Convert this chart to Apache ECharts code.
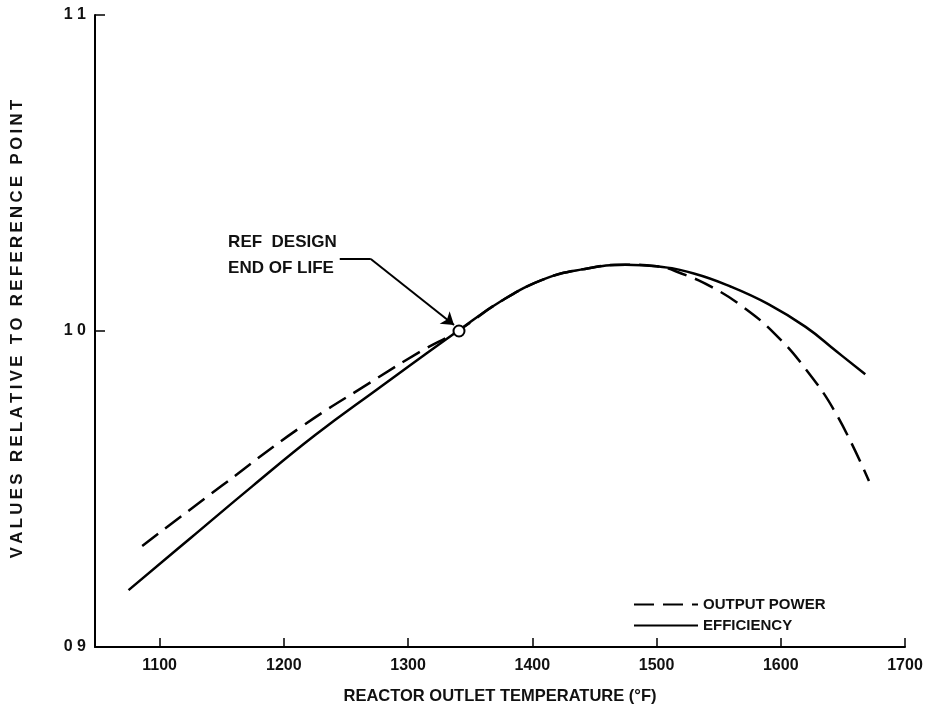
<!DOCTYPE html>
<html>
<head>
<meta charset="utf-8">
<script src="https://cdn.jsdelivr.net/npm/echarts@6/dist/echarts.min.js"></script>
<style>
html,body{margin:0;padding:0;background:#fff;}
#c{width:930px;height:710px;}
</style>
</head>
<body>
<div id="c"></div>
<script>
// ---- data ----
const effTemp   = [1075, 1125, 1175, 1225, 1275, 1340, 1375, 1410, 1440, 1475, 1500, 1530, 1560, 1590, 1620, 1645, 1668];
const effValue  = [0.918, 0.9345, 0.951, 0.967, 0.9815, 1.000, 1.0095, 1.0165, 1.0195, 1.021, 1.0205, 1.0182, 1.0140, 1.0085, 1.0013, 0.9935, 0.9863];
const powTemp   = [1086, 1150, 1213, 1270, 1310, 1340, 1375, 1410, 1440, 1475, 1500, 1520, 1545, 1570, 1595, 1620, 1645, 1671];
const powValue  = [0.932, 0.951, 0.9694, 0.9838, 0.9935, 1.000, 1.0095, 1.0165, 1.0195, 1.021, 1.0205, 1.0182, 1.0138, 1.0075, 0.9992, 0.9880, 0.9735, 0.9525];
const refPoint  = [1341, 1.0];
const leaderHorizontal = [[1245, 1.0228], [1270, 1.0228]];
const leaderArrow = [[1270, 1.0228], [1337, 1.0019]];
const xTicks    = [1100, 1200, 1300, 1400, 1500, 1600, 1700];
const yTicks    = [0.9, 1.0, 1.1];
const yTickLabels = ['0 9', '1 0', '1 1'];
const seriesNames = ['OUTPUT POWER', 'EFFICIENCY'];
const annotationLines = ['REF  DESIGN', 'END OF LIFE'];
const xTitle = 'REACTOR OUTLET TEMPERATURE (°F)';
const yTitle = 'VALUES RELATIVE TO REFERENCE POINT';

const FONT = 'Liberation Sans, Arial, Helvetica, sans-serif';
const spaced = s => s.split('').join('\u2009');
const chart = echarts.init(document.getElementById('c'), null, {renderer: 'canvas'});

const pair = (xs, ys) => xs.map((x, i) => [x, ys[i]]);

chart.setOption({
  animation: false,
  backgroundColor: '#fff',
  grid: {left: 95, right: 25, top: 15, bottom: 63, containLabel: false},
  xAxis: {
    type: 'value', min: 1048, max: 1700,
    name: xTitle,
    nameLocation: 'middle', nameGap: 41,
    nameTextStyle: {fontFamily: FONT, fontSize: 16.5, fontWeight: 'bold', color: '#111'},
    axisLine: {show: true, lineStyle: {color: '#000', width: 2}},
    axisTick: {show: true, inside: true, length: 9, customValues: xTicks, lineStyle: {color: '#000', width: 1.5}},
    axisLabel: {customValues: xTicks, fontFamily: FONT, fontSize: 16, fontWeight: 'bold', color: '#111', margin: 11,
      formatter: v => String(v)},
    splitLine: {show: false}
  },
  yAxis: {
    type: 'value', min: 0.9, max: 1.1, interval: 0.1,
    name: spaced(yTitle),
    nameLocation: 'middle', nameGap: 69, nameRotate: 90,
    nameTextStyle: {fontFamily: FONT, fontSize: 16.8, fontWeight: 'bold', color: '#111', padding: [0, 0, 0, 4]},
    axisLine: {show: true, lineStyle: {color: '#000', width: 2}},
    axisTick: {show: true, inside: true, length: 10, lineStyle: {color: '#000', width: 1.5}},
    axisLabel: {
      fontFamily: FONT, fontSize: 16, fontWeight: 'bold', color: '#111', margin: 9,
      formatter: v => {
        const i = yTicks.findIndex(t => Math.abs(t - v) < 1e-6);
        return i >= 0 ? yTickLabels[i] : '';
      }
    },
    splitLine: {show: false}
  },
  legend: {
    orient: 'vertical', left: 628, top: 592,
    itemWidth: 64, itemHeight: 14, itemGap: 6,
    data: seriesNames,
    itemStyle: {color: 'rgba(0,0,0,0)', borderWidth: 0, opacity: 0},
    textStyle: {fontFamily: FONT, fontSize: 15, fontWeight: 'bold', color: '#111'}
  },
  series: [
    {
      name: seriesNames[0], type: 'line', data: pair(powTemp, powValue),
      smooth: 0.45, symbol: 'none', showSymbol: false,
      lineStyle: {color: '#000', width: 2.5, type: [20, 9]}, itemStyle: {color: '#000'}, z: 3
    },
    {
      name: seriesNames[1], type: 'line', data: pair(effTemp, effValue),
      smooth: 0.45, symbol: 'none', showSymbol: false,
      lineStyle: {color: '#000', width: 2.5, type: 'solid'}, itemStyle: {color: '#000'}, z: 3
    },
    {
      name: 'leader1', type: 'lines', coordinateSystem: 'cartesian2d',
      symbol: ['none', 'none'],
      lineStyle: {color: '#000', width: 2, opacity: 1, curveness: 0},
      data: [{coords: leaderHorizontal}], z: 4, silent: true
    },
    {
      name: 'leader2', type: 'lines', coordinateSystem: 'cartesian2d',
      symbol: ['none', 'arrow'], symbolSize: 12,
      lineStyle: {color: '#000', width: 2, opacity: 1, curveness: 0},
      data: [{coords: leaderArrow}], z: 4, silent: true
    },
    {
      name: 'ref', type: 'scatter', data: [refPoint], symbol: 'circle', symbolSize: 11,
      itemStyle: {color: '#fff', borderColor: '#000', borderWidth: 2, opacity: 1}, z: 5, silent: true,
      label: {show: false}
    }
  ]
});

// annotation text anchored at the start of the leader line
const anchor = chart.convertToPixel({gridIndex: 0}, leaderHorizontal[0]);
chart.setOption({
  graphic: [{
    type: 'text', right: 930 - anchor[0] + 3, top: anchor[1] - 30,
    style: {
      text: annotationLines.join('\n'), fill: '#111', font: 'bold 17px ' + FONT,
      lineHeight: 26, textAlign: 'left'
    }
  }]
});
</script>
</body>
</html>
